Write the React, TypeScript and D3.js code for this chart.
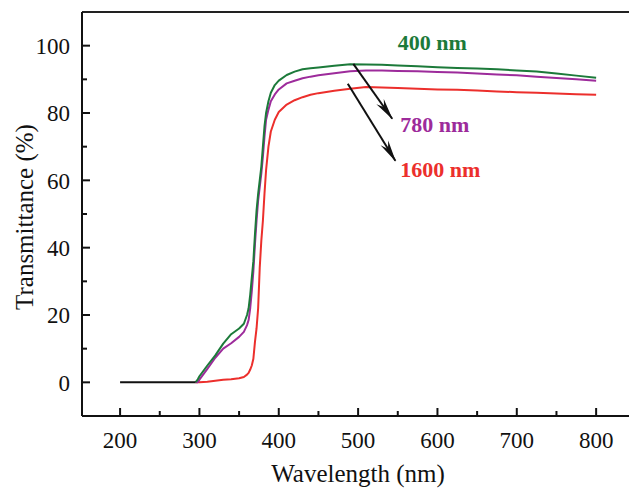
import React from "react";
import * as d3 from "d3";

// wavelength grid (nm) shared by the three spectra
const wavelength = [
  295, 298, 300, 310, 320, 330, 340, 350, 356, 360,
  362, 364, 366, 368, 370, 372, 374, 376, 378, 380,
  382, 384, 387, 390, 395, 400, 410, 420, 430, 440,
  450, 470, 490, 510, 530, 550, 575, 600, 625, 650,
  675, 700, 725, 750, 775, 800,
];

const t400 = [
  0, 0.9, 1.8, 5, 8, 11.5, 14.3, 16, 17.4, 20,
  22, 26, 31, 36, 44, 51, 56, 60, 64, 70,
  76, 80, 83.5, 86, 88.3, 89.6, 91.3, 92.3, 93, 93.3,
  93.5, 94, 94.5, 94.4, 94.3, 94.1, 93.9, 93.6, 93.4, 93.2,
  93, 92.6, 92.3, 91.7, 91.1, 90.5,
];

const t780 = [
  0, 0, 0.8, 4, 7.3, 10, 11.6, 13.5, 15, 17,
  18.5, 22, 27, 33, 41, 48, 54, 58, 62, 67,
  73, 78, 81, 83.5, 85.5, 87, 88.8, 89.6, 90.3, 90.8,
  91.2, 91.8, 92.4, 92.6, 92.6, 92.5, 92.4, 92.2, 92, 91.7,
  91.4, 91.2, 90.8, 90.4, 90, 89.6,
];

const t1600 = [
  0, 0, 0, 0.2, 0.5, 0.8, 0.9, 1.2, 1.6, 2.3,
  2.8, 3.8, 5, 7, 12, 16, 22, 34, 42, 48,
  56, 63, 70, 74.5, 78, 80.3, 82.5, 83.8, 84.7, 85.4,
  85.9, 86.6, 87.2, 87.7, 87.6, 87.4, 87.2, 87, 86.9, 86.7,
  86.4, 86.2, 86, 85.8, 85.6, 85.4,
];

// flat black segment before absorption edge
const baseWl = [200, 295];
const baseT = [0, 0];

const xMajor = [200, 300, 400, 500, 600, 700, 800];
const xMinor = [250, 350, 450, 550, 650, 750];
const yMajor = [0, 20, 40, 60, 80, 100];
const yMinor = [10, 30, 50, 70, 90];

const green = "#1c7a3a";
const purple = "#9d2b9b";
const red = "#ec2f2c";

const labels = [
  { text: "400 nm", x: 550, y: 98.7, color: green },
  { text: "780 nm", x: 553, y: 74.3, color: purple },
  { text: "1600 nm", x: 553, y: 61, color: red },
];

const arrows = [
  { x1: 494, y1: 94.6, x2: 543, y2: 78.3 },
  { x1: 487, y1: 88.7, x2: 547, y2: 65.8 },
];

const W = 629;
const H = 490;
const font = "'Liberation Serif', 'Times New Roman', serif";

export default function App() {
  const x = d3.scaleLinear().domain([152, 850]).range([82, 635.8]);
  const y = d3.scaleLinear().domain([-10, 110]).range([416, 12]);

  const line = d3
    .line<number>()
    .x((d, i) => x(wavelength[i]))
    .y((d) => y(d));

  const baseLine = d3
    .line<number>()
    .x((d, i) => x(baseWl[i]))
    .y((d) => y(d));

  const [x0, x1] = x.range();
  const [yb, yt] = y.range();

  const series = [
    { vals: t1600, color: red },
    { vals: t780, color: purple },
    { vals: t400, color: green },
  ];

  return (
    <div style={{ position: "fixed", left: 0, top: 0 }}>
      <svg width={W} height={H} style={{ display: "block", background: "#fff" }}>
        <defs>
          <marker
            id="head"
            viewBox="0 0 22 10"
            refX="21"
            refY="5"
            markerWidth="22"
            markerHeight="10"
            markerUnits="userSpaceOnUse"
            orient="auto"
          >
            <path d="M0,0.5 L22,5 L0,9.5 L7,5 Z" fill="#111" />
          </marker>
        </defs>

        {series.map((s, i) => (
          <path
            key={i}
            d={line(s.vals) || ""}
            fill="none"
            stroke={s.color}
            strokeWidth={2}
            strokeLinejoin="round"
          />
        ))}
        <path d={baseLine(baseT) || ""} fill="none" stroke="#111" strokeWidth={2} />

        {/* frame */}
        <line x1={x0} x2={x1} y1={yt} y2={yt} stroke="#222" strokeWidth={2} />
        <line x1={x0} x2={x1} y1={yb} y2={yb} stroke="#111" strokeWidth={2} />
        <line x1={x0} x2={x0} y1={yt} y2={yb} stroke="#111" strokeWidth={2} />

        {/* y ticks */}
        {yMajor.map((v) => (
          <g key={"ym" + v}>
            <line x1={x0} x2={x0 + 8} y1={y(v)} y2={y(v)} stroke="#111" strokeWidth={2} />
            <text
              x={70}
              y={y(v)}
              dy="0.36em"
              textAnchor="end"
              fontFamily={font}
              fontSize={23}
              fill="#111"
            >
              {v}
            </text>
          </g>
        ))}
        {yMinor.map((v) => (
          <line key={"yn" + v} x1={x0} x2={x0 + 5} y1={y(v)} y2={y(v)} stroke="#111" strokeWidth={2} />
        ))}

        {/* x ticks */}
        {xMajor.map((v) => (
          <g key={"xm" + v}>
            <line x1={x(v)} x2={x(v)} y1={yb} y2={yb - 8} stroke="#111" strokeWidth={2} />
            <text
              x={x(v)}
              y={448}
              textAnchor="middle"
              fontFamily={font}
              fontSize={23}
              fill="#111"
            >
              {v}
            </text>
          </g>
        ))}
        {xMinor.map((v) => (
          <line key={"xn" + v} x1={x(v)} x2={x(v)} y1={yb} y2={yb - 5} stroke="#111" strokeWidth={2} />
        ))}

        {/* axis titles */}
        <text
          x={358}
          y={482}
          textAnchor="middle"
          fontFamily={font}
          fontSize={25}
          fill="#111"
        >
          Wavelength (nm)
        </text>
        <text
          transform="translate(33,217) rotate(-90)"
          textAnchor="middle"
          fontFamily={font}
          fontSize={25}
          fill="#111"
        >
          Transmittance (%)
        </text>

        {/* annotations */}
        {arrows.map((a, i) => (
          <line
            key={"ar" + i}
            x1={x(a.x1)}
            y1={y(a.y1)}
            x2={x(a.x2)}
            y2={y(a.y2)}
            stroke="#111"
            strokeWidth={2}
            markerEnd="url(#head)"
          />
        ))}
        {labels.map((l) => (
          <text
            key={l.text}
            x={x(l.x)}
            y={y(l.y)}
            fontFamily={font}
            fontSize={22}
            fontWeight="bold"
            fill={l.color}
          >
            {l.text}
          </text>
        ))}
      </svg>
    </div>
  );
}
